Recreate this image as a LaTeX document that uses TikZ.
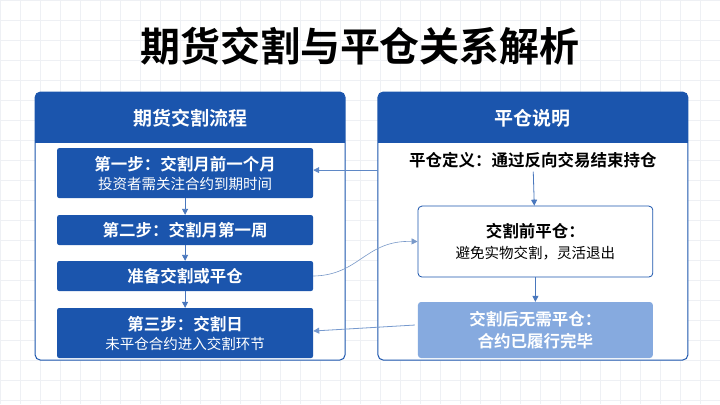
\documentclass[tikz,border=0pt]{standalone}
\usepackage{fontspec}
\setmainfont{Noto Sans CJK SC}
\newfontfamily\cjkbold{Noto Sans CJK SC Bold}
\usetikzlibrary{positioning,arrows.meta}
\definecolor{deepblue}{HTML}{1B55AD}
\definecolor{paleblue}{HTML}{86AADF}
\definecolor{gridgray}{HTML}{EEF0F4}
\begin{document}
\begin{tikzpicture}[x=1pt,y=-1pt,
    panel/.style={draw=deepblue, line width=1pt, fill=white, rounded corners=5pt},
    head/.style={fill=deepblue, text=white, font=\cjkbold\fontsize{19}{22}\selectfont},
    stepbox/.style={fill=deepblue, text=white, rounded corners=2pt, minimum width=256pt, align=center, font=\fontsize{14.5}{19}\selectfont},
    flow/.style={-{Triangle[length=6pt,width=6pt]}, draw=deepblue!80, line width=0.8pt}
  ]
  \fill[white] (0,0) rectangle (720,404);
  \foreach \i in {0,20,...,720} \draw[gridgray, line width=0.4pt] (\i,0) -- (\i,404);
  \foreach \j in {0,20,...,404} \draw[gridgray, line width=0.4pt] (0,\j) -- (720,\j);
  \useasboundingbox (0,0) rectangle (720,404);
  \node[font=\cjkbold\fontsize{40}{44}\selectfont] (title) at (360,46) {期货交割与平仓关系解析};
  % panels
  \draw[panel] (35,92) rectangle (345,360);
  \draw[panel] (378,92) rectangle (688,360);
  \begin{scope}
    \clip[rounded corners=5pt] (35,92) rectangle (345,200);
    \fill[deepblue] (35,92) rectangle (345,143);
  \end{scope}
  \begin{scope}
    \clip[rounded corners=5pt] (378,92) rectangle (688,200);
    \fill[deepblue] (378,92) rectangle (688,143);
  \end{scope}
  \node[head] (lhead) at (190,118) {期货交割流程};
  \node[head] (rhead) at (533,118) {平仓说明};
  % left flow
  \node[stepbox, minimum height=50pt] (s1) at (185,173) {{\cjkbold\fontsize{16.5}{20}\selectfont 第一步：交割月前一个月}\\投资者需关注合约到期时间};
  \node[stepbox, minimum height=30pt, font=\cjkbold\fontsize{16.5}{20}\selectfont] (s2) at (185,230) {第二步：交割月第一周};
  \node[stepbox, minimum height=30pt, font=\cjkbold\fontsize{16.5}{20}\selectfont] (s3) at (185,276) {准备交割或平仓};
  \node[stepbox, minimum height=50pt] (s4) at (185,333) {{\cjkbold\fontsize{16.5}{20}\selectfont 第三步：交割日}\\未平仓合约进入交割环节};
  \draw[flow] (s1) -- (s2);
  \draw[flow] (s2) -- (s3);
  \draw[flow] (s3) -- (s4);
  % right side
  \node[font=\cjkbold\fontsize{16.5}{20}\selectfont] (def) at (533,160) {平仓定义：通过反向交易结束持仓};
  \node[draw=deepblue, line width=0.8pt, fill=white, rounded corners=4pt, minimum width=235pt, minimum height=71pt, align=center, font=\fontsize{14.5}{21}\selectfont] (pre) at (535.5,241.5) {{\cjkbold\fontsize{16.5}{20}\selectfont 交割前平仓：}\\避免实物交割，灵活退出};
  \node[fill=paleblue, text=white, rounded corners=3pt, minimum width=235pt, minimum height=56pt, align=center, font=\cjkbold\fontsize{16.5}{22}\selectfont] (post) at (535.5,330) {交割后无需平仓：\\合约已履行完毕};
  \draw[flow] (def) -- (pre);
  \draw[flow] (pre) -- (post);
  % cross links
  \coordinate (rpanel) at (378,170);
  \coordinate (rfree) at (415,325);
  \draw[flow, draw=deepblue!70] (rpanel) -- (s1.east |- rpanel);
  \draw[flow, draw=paleblue!90!black, line width=0.6pt] (s3.east) .. controls (360,275) and (365,240) .. (pre.west);
  \draw[flow, draw=deepblue!60] (rfree) -- ([yshift=2pt]s4.east);
\end{tikzpicture}
\end{document}
